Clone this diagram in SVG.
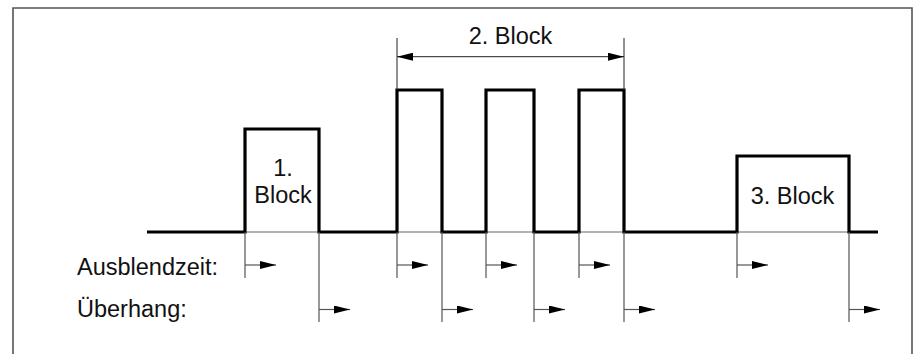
<svg xmlns="http://www.w3.org/2000/svg" width="917" height="354" viewBox="0 0 917 354">
<defs>
<style>
.t{font-family:"Liberation Sans",Arial,sans-serif;font-size:23.5px;fill:#111}
.wave{fill:none;stroke:#000;stroke-width:3.2;stroke-linejoin:miter}
.thin{fill:none;stroke:#666;stroke-width:1.2}
.mk{fill:none;stroke:#555;stroke-width:1.2}
.dim{fill:none;stroke:#222;stroke-width:1}
</style>
<marker id="arr" viewBox="0 0 16 8" refX="16" refY="4" markerWidth="16" markerHeight="8" markerUnits="userSpaceOnUse" orient="auto">
<path d="M0,0 L16,4 L0,8 Z" fill="#000"/>
</marker>
<marker id="arrs" viewBox="0 0 16 8" refX="16" refY="4" markerWidth="16" markerHeight="8" markerUnits="userSpaceOnUse" orient="auto-start-reverse">
<path d="M0,0 L16,4 L0,8 Z" fill="#000"/>
</marker>
</defs>
<rect width="917" height="354" fill="#fff"/>
<g id="frame">
<path d="M13,360 V8 H912 V360" fill="none" stroke="#555" stroke-width="1.6"/>
</g>
<g id="baseline-thin">
<path class="thin" d="M245,232 H319 M397,232 H442 M486,232 H534 M579,232 H624 M737,232 H849"/>
</g>
<g id="signal">
<path class="wave" d="M147,232 H245 V129 H319 V232 H397 V90 H442 V232 H486 V90 H534 V232 H579 V90 H624 V232 H737 V156 H849 V232 H878"/>
</g>
<g id="block1">
<text class="t" x="283" y="176" text-anchor="middle">1.</text>
<text class="t" x="283" y="203" text-anchor="middle">Block</text>
</g>
<g id="block2">
<text class="t" x="510.5" y="44" text-anchor="middle">2. Block</text>
</g>
<g id="block3">
<text class="t" x="792.5" y="204" text-anchor="middle">3. Block</text>
</g>
<g id="labels">
<text class="t" x="77" y="275">Ausblendzeit:</text>
<text class="t" x="77" y="317">Überhang:</text>
</g>
<g id="connectors">
<path class="dim" d="M397,38 V90 M624,38 V90"/>
<path class="dim" d="M397,56.7 H624" marker-start="url(#arrs)" marker-end="url(#arr)"/>
<g id="ausblendzeit">
<path class="mk" d="M245,232 V278 M397,232 V278 M486,232 V278 M579,232 V278 M737,232 V278"/>
<path class="mk" d="M245,265 H276" marker-end="url(#arr)"/>
<path class="mk" d="M397,265 H428" marker-end="url(#arr)"/>
<path class="mk" d="M486,265 H517" marker-end="url(#arr)"/>
<path class="mk" d="M579,265 H610" marker-end="url(#arr)"/>
<path class="mk" d="M737,265 H768" marker-end="url(#arr)"/>
</g>
<g id="ueberhang">
<path class="mk" d="M319,232 V322 M442,232 V322 M534,232 V322 M624,232 V322 M849,232 V322"/>
<path class="mk" d="M319,309.5 H350" marker-end="url(#arr)"/>
<path class="mk" d="M442,309.5 H473" marker-end="url(#arr)"/>
<path class="mk" d="M534,309.5 H565" marker-end="url(#arr)"/>
<path class="mk" d="M624,309.5 H655" marker-end="url(#arr)"/>
<path class="mk" d="M849,309.5 H880" marker-end="url(#arr)"/>
</g>
</g>
</svg>
